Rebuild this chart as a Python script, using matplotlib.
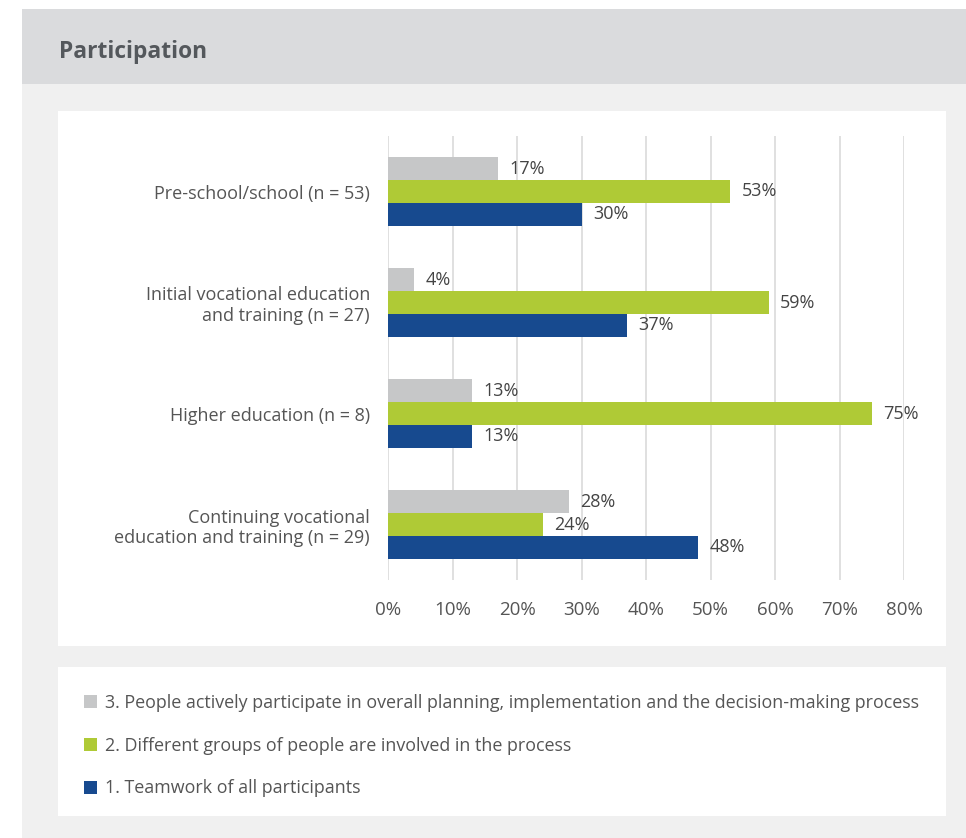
import numpy as np
import matplotlib
matplotlib.use("Agg")
import matplotlib.pyplot as plt
from matplotlib.patches import Rectangle

plt.rcParams['font.family'] = ['Open Sans', 'DejaVu Sans']

# data
categories = ['Pre-school/school (n = 53)',
              'Initial vocational education\nand training (n = 27)',
              'Higher education (n = 8)',
              'Continuing vocational\neducation and training (n = 29)']
active = [17, 4, 13, 28]      # 3. actively participate
groups = [53, 59, 75, 24]     # 2. different groups involved
teamwork = [30, 37, 13, 48]   # 1. teamwork
series_labels = ['3. People actively participate in overall planning, implementation and the decision-making process',
                 '2. Different groups of people are involved in the process',
                 '1. Teamwork of all participants']
colors = ['#c6c7c8', '#afca36', '#174a8f']
xticks = [0, 10, 20, 30, 40, 50, 60, 70, 80]

W, H = 966, 838
fig = plt.figure(figsize=(W / 100, H / 100), dpi=100)


def box(x0, y0, x1, y1, color):
    # pixel coords from the top-left corner
    fig.patches.append(Rectangle((x0 / W, 1 - y1 / H), (x1 - x0) / W, (y1 - y0) / H,
                                 transform=fig.transFigure, facecolor=color,
                                 edgecolor='none', zorder=-10))


box(22, 9, 966, 838, '#f0f0f0')
box(22, 9, 966, 84, '#dadbdd')
box(58, 111, 946, 646, 'white')
box(58, 667, 946, 816, 'white')

fig.text(59 / W, 1 - 52 / H, 'Participation', fontsize=16.4, fontweight='bold',
         color='#54585c', va='center', ha='left')

ax = fig.add_axes([388 / W, 1 - 580 / H, 516 / W, 444 / H])
ax.set_facecolor('none')

y = np.arange(len(categories))
h = 0.207
b3 = ax.barh(y - h, active, height=h, color=colors[0], label=series_labels[0], zorder=2)
b2 = ax.barh(y, groups, height=h, color=colors[1], label=series_labels[1], zorder=2)
b1 = ax.barh(y + h, teamwork, height=h, color=colors[2], label=series_labels[2], zorder=2)

for bars in (b3, b2, b1):
    for rect in bars:
        v = rect.get_width()
        ax.text(v + 1.8, rect.get_y() + rect.get_height() / 2, f'{v:.0f}%',
                va='center', ha='left', fontsize=13, color='#444444')

ax.set_xlim(0, 80)
ax.set_ylim(len(categories) - 0.5, -0.5)
ax.set_xticks(xticks)
ax.set_xticklabels([f'{t}%' for t in xticks])
ax.set_yticks(y)
ax.set_yticklabels(categories, ha='right')
ax.tick_params(axis='both', length=0, labelsize=13, colors='#555555')
ax.tick_params(axis='x', labelsize=13.5, pad=15)
ax.tick_params(axis='y', pad=13)
for lab in ax.get_yticklabels():
    lab.set_multialignment('right')
ax.grid(axis='x', color='#dddddd', linewidth=1.3, zorder=0)
for s in ax.spines.values():
    s.set_visible(False)

fig.legend(handles=[b3, b2, b1], loc='upper left',
           bbox_to_anchor=(84 / W, 1 - 694 / H), frameon=False,
           fontsize=12.9, handlelength=0.75, handleheight=0.75,
           handletextpad=0.4, labelspacing=1.38, labelcolor='#555555',
           borderpad=0, borderaxespad=0)

fig.savefig('out.png', dpi=100, facecolor='white')
